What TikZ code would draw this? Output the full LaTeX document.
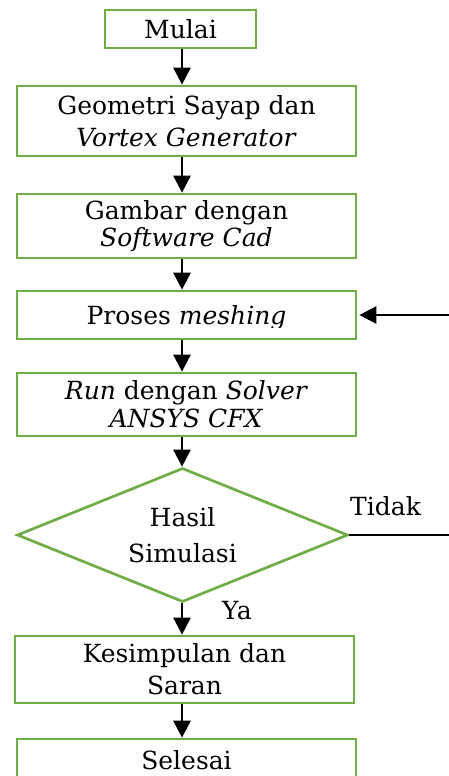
\documentclass[tikz,border=0pt]{standalone}
\usepackage{fontspec}
\setmainfont{DejaVu Serif}
\usetikzlibrary{shapes.geometric,arrows.meta}
\definecolor{boxgreen}{RGB}{112,173,71}
\begin{document}
\begin{tikzpicture}[x=1pt,y=-1pt,
  box/.style={draw=boxgreen,line width=2.7pt,fill=white,inner sep=0pt,align=center,
    minimum width=339pt},
  txt/.style={font=\fontsize{25}{#1}\selectfont},
  flow/.style={line width=2.7pt,-{Triangle[length=17pt,width=17pt]}},
  plain/.style={line width=2.7pt},
  lbl/.style={inner sep=0pt,anchor=base west,font=\fontsize{25}{30}\selectfont},
]
\useasboundingbox (0,0) rectangle (449,776);
\clip (0,0) rectangle (449,776);
\coordinate (ax) at (182,0);
\node[box,txt=30,minimum width=151pt,minimum height=38pt] (mulai) at (180.5,29) {Mulai};
\node[box,txt=32,minimum height=70pt] (geo) at (186.5,121) {Geometri Sayap dan\\\textit{Vortex Generator}};
\node[box,txt=27,minimum height=64pt] (gambar) at (186.5,226) {Gambar dengan\\\textit{Software Cad}};
\node[box,txt=30,minimum height=48pt,text depth=0pt] (proses) at (186.5,315) {Proses \textit{meshing}};
\fill[white] ([xshift=2pt,yshift=2pt]proses.south west) rectangle ([xshift=-2pt]proses.east |- 0,327.5);
\node[box,txt=28,minimum height=63pt] (run) at (186.5,404.5) {\textit{Run} dengan \textit{Solver}\\\textit{ANSYS CFX}};
\node[diamond,draw=boxgreen,line width=2.7pt,fill=white,inner sep=0pt,align=center,
  aspect=2.47,minimum width=331pt,minimum height=134pt,txt=36] (dia) at (182.5,535) {Hasil\\Simulasi};
\node[box,txt=32,minimum height=67pt] (kes) at (184.5,669.5) {Kesimpulan dan\\Saran};
\node[box,txt=30,minimum height=42pt] (selesai) at (186.5,760) {Selesai};
\node[lbl] (tidak) at (350,515) {Tidak};
\node[lbl] (ya) at (222,619) {Ya};
\coordinate (back) at (449,315);
\coordinate (no) at (449,535);
\draw[flow] (mulai.south -| ax) -- (geo.north -| ax);
\draw[flow] (geo.south -| ax) -- (gambar.north -| ax);
\draw[flow] (gambar.south -| ax) -- (proses.north -| ax);
\draw[flow] (proses.south -| ax) -- (run.north -| ax);
\draw[flow] (run.south -| ax) -- (dia.north -| ax);
\draw[flow] (dia.south -| ax) -- (kes.north -| ax);
\draw[flow] (kes.south -| ax) -- (selesai.north -| ax);
\draw[flow,shorten >=2pt] (back) -- (proses.east |- back);
\draw[plain] (dia.east) -- (no);
\end{tikzpicture}
\end{document}
